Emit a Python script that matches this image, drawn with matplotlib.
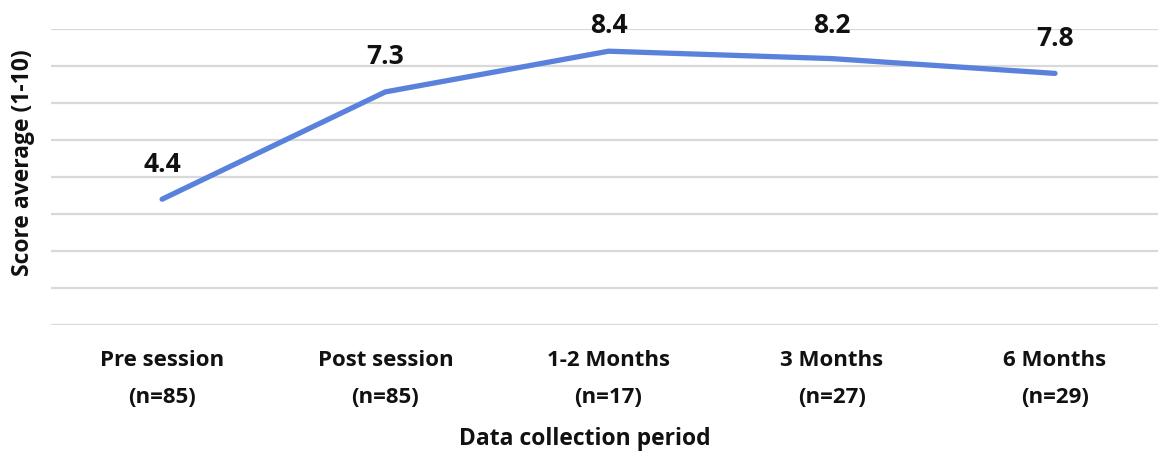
import matplotlib
matplotlib.use("Agg")
import matplotlib.pyplot as plt

periods = ["Pre session\n(n=85)", "Post session\n(n=85)", "1-2 Months\n(n=17)",
           "3 Months\n(n=27)", "6 Months\n(n=29)"]
scores = [4.4, 7.3, 8.4, 8.2, 7.8]
y_min, y_max = 1, 9

plt.rcParams["font.family"] = ["Open Sans", "DejaVu Sans"]

W, H = 1158, 452
fig = plt.figure(figsize=(W / 100, H / 100), dpi=100)
ax = fig.add_axes([50.5 / W, 126 / H, 1 - 50.5 / W, 296 / H])

x = list(range(len(periods)))
ax.plot(x, scores, color="#5A82DC", linewidth=3.8, solid_capstyle="round",
        solid_joinstyle="round", zorder=3)

ax.set_xlim(-0.5, (W - 162) / 223.25)
ax.set_ylim(y_min, y_max)

# value labels sit a fixed distance above each point, but never closer
# than 26 px to the top edge of the figure
label_gap = 36
top_margin = 26
for xi, v in zip(x, scores):
    px, py = ax.transData.transform((xi, v))
    ly = min(py + label_gap, H - top_margin)
    ax.annotate(f"{v:.1f}", (xi, v), xytext=(0, ly - py),
                textcoords="offset pixels", ha="center", va="center",
                fontsize=19, fontweight="bold", color="#111111")

ax.set_yticks(range(y_min, y_max + 1))
ax.set_yticklabels([])
ax.tick_params(axis="y", length=0)
ax.grid(axis="y", color="#D9D9D9", linewidth=1.6, zorder=0)
ax.set_axisbelow(True)

ax.set_xticks(x)
ax.set_xticklabels(periods, fontsize=16, fontweight="bold", color="#111111",
                   linespacing=2.05)
ax.tick_params(axis="x", length=0, pad=17)

for side in ["top", "right", "left", "bottom"]:
    ax.spines[side].set_visible(False)

fig.text(585 / W, 1 - 439 / H, "Data collection period", ha="center",
         va="center", fontsize=16.5, fontweight="bold", color="#111111")
fig.text(23 / W, 1 - 163 / H, "Score average (1-10)", ha="center",
         va="center", rotation=90, fontsize=16.5, fontweight="bold",
         color="#111111")

fig.savefig("out.png", dpi=100, facecolor="white")
